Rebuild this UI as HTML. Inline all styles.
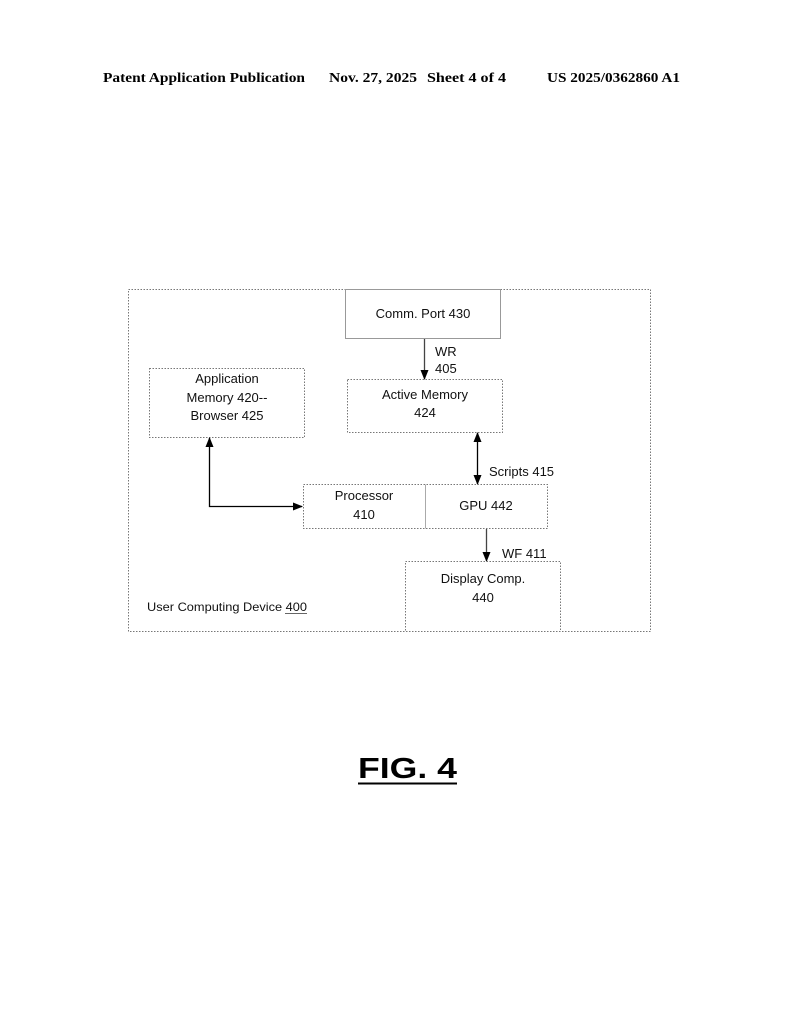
<!DOCTYPE html>
<html>
<head>
<meta charset="utf-8">
<style>
html,body{margin:0;padding:0;background:#fff;}
body{width:794px;height:1024px;overflow:hidden;}
svg{display:block;}
.t{font-family:"Liberation Sans",Arial,sans-serif;font-size:13px;fill:#111;}
.h{font-family:"Liberation Serif","Times New Roman",serif;font-size:13.5px;font-weight:bold;fill:#000;}
</style>
</head>
<body>
<svg width="794" height="1024" viewBox="0 0 794 1024" xmlns="http://www.w3.org/2000/svg">
  <defs>
    <marker id="ah" markerWidth="10" markerHeight="10" refX="9" refY="4" orient="auto" markerUnits="userSpaceOnUse">
      <path d="M0,0 L10,4 L0,8 z" fill="#000"/>
    </marker>
    <marker id="ahs" markerWidth="10" markerHeight="10" refX="1" refY="4" orient="auto" markerUnits="userSpaceOnUse">
      <path d="M10,0 L0,4 L10,8 z" fill="#000"/>
    </marker>
  </defs>

  <!-- Header -->
  <text class="h" x="103" y="82" textLength="202" lengthAdjust="spacingAndGlyphs">Patent Application Publication</text>
  <text class="h" x="329" y="82" textLength="88" lengthAdjust="spacingAndGlyphs">Nov. 27, 2025</text>
  <text class="h" x="427" y="82" textLength="79" lengthAdjust="spacingAndGlyphs">Sheet 4 of 4</text>
  <text class="h" x="547" y="82" textLength="133" lengthAdjust="spacingAndGlyphs">US 2025/0362860 A1</text>

  <!-- Outer box -->
  <rect x="128.5" y="289.5" width="522" height="342" fill="none" stroke="#777" stroke-width="1" stroke-dasharray="1.5,1.5"/>

  <!-- Comm Port box -->
  <rect x="345.5" y="289.5" width="155" height="49" fill="#fff" stroke="#999" stroke-width="1"/>
  <text class="t" x="423" y="318" text-anchor="middle">Comm. Port 430</text>

  <!-- WR arrow -->
  <line x1="424.5" y1="339" x2="424.5" y2="379" stroke="#444" stroke-width="1.3" marker-end="url(#ah)"/>
  <text class="t" x="435" y="356">WR</text>
  <text class="t" x="435" y="373">405</text>

  <!-- Active Memory box -->
  <rect x="347.5" y="379.5" width="155" height="53" fill="none" stroke="#777" stroke-width="1" stroke-dasharray="1.5,1.5"/>
  <text class="t" x="425" y="399" text-anchor="middle">Active Memory</text>
  <text class="t" x="425" y="417" text-anchor="middle">424</text>

  <!-- Application Memory box -->
  <rect x="149.5" y="368.5" width="155" height="69" fill="none" stroke="#777" stroke-width="1" stroke-dasharray="1.5,1.5"/>
  <text class="t" x="227" y="383" text-anchor="middle">Application</text>
  <text class="t" x="227" y="402" text-anchor="middle">Memory 420--</text>
  <text class="t" x="227" y="420" text-anchor="middle">Browser 425</text>

  <!-- App <-> Processor arrow -->
  <polyline points="209.5,438 209.5,506.5 302,506.5" fill="none" stroke="#000" stroke-width="1.3" marker-start="url(#ahs)" marker-end="url(#ah)"/>

  <!-- Active Memory <-> GPU arrow -->
  <line x1="477.5" y1="433" x2="477.5" y2="484" stroke="#000" stroke-width="1.3" marker-start="url(#ahs)" marker-end="url(#ah)"/>
  <text class="t" x="489" y="476">Scripts 415</text>

  <!-- Processor / GPU box -->
  <rect x="303.5" y="484.5" width="244" height="44" fill="none" stroke="#777" stroke-width="1" stroke-dasharray="1.5,1.5"/>
  <line x1="425.5" y1="484.5" x2="425.5" y2="528.5" stroke="#aaa" stroke-width="1"/>
  <text class="t" x="364" y="500" text-anchor="middle">Processor</text>
  <text class="t" x="364" y="519" text-anchor="middle">410</text>
  <text class="t" x="486" y="510" text-anchor="middle">GPU 442</text>

  <!-- WF arrow -->
  <line x1="486.5" y1="529" x2="486.5" y2="561" stroke="#444" stroke-width="1.3" marker-end="url(#ah)"/>
  <text class="t" x="502" y="558">WF 411</text>

  <!-- Display box -->
  <rect x="405.5" y="561.5" width="155" height="70" fill="#fff" stroke="#777" stroke-width="1" stroke-dasharray="1.5,1.5"/>
  <text class="t" x="483" y="583" text-anchor="middle">Display Comp.</text>
  <text class="t" x="483" y="602" text-anchor="middle">440</text>

  <!-- Device label -->
  <text class="t" x="147" y="611" style="font-size:12px" textLength="160" lengthAdjust="spacingAndGlyphs">User Computing Device 400</text>
  <line x1="285" y1="613.5" x2="307" y2="613.5" stroke="#333" stroke-width="0.8"/>

  <!-- FIG. 4 -->
  <text x="358" y="778" style="font-family:'Liberation Sans',Arial,sans-serif;font-size:29px;font-weight:bold;fill:#000" textLength="99" lengthAdjust="spacingAndGlyphs">FIG.  4</text>
  <line x1="358" y1="783.5" x2="457" y2="783.5" stroke="#000" stroke-width="2"/>
</svg>
</body>
</html>
